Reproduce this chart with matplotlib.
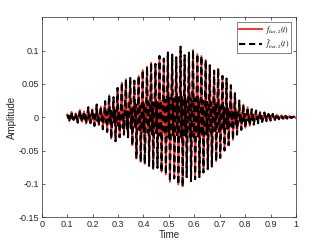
import matplotlib
matplotlib.use("Agg")
import matplotlib.pyplot as plt
import numpy as np

plt.rcParams['font.family'] = ['Liberation Sans', 'DejaVu Sans']
plt.rcParams['mathtext.fontset'] = 'stix'

# Upper peaks (time, amplitude)
t_up = [0.100, 0.117, 0.133, 0.150, 0.166, 0.183, 0.199, 0.216, 0.232, 0.249,
        0.265, 0.282, 0.298, 0.315, 0.331, 0.348, 0.364, 0.381, 0.397, 0.414,
        0.430, 0.447, 0.463, 0.480, 0.496, 0.513, 0.529, 0.546, 0.562, 0.579,
        0.595, 0.612, 0.628, 0.645, 0.661, 0.678, 0.694, 0.711, 0.727, 0.744,
        0.760, 0.777, 0.793, 0.810, 0.826, 0.843, 0.859, 0.876, 0.892, 0.909,
        0.925, 0.942, 0.958, 0.975, 0.991]
a_up = [0.004, 0.008, 0.006, 0.011, 0.009, 0.015, 0.012, 0.019, 0.016, 0.024,
        0.033, 0.030, 0.044, 0.052, 0.057, 0.059, 0.055, 0.062, 0.071, 0.076,
        0.082, 0.080, 0.092, 0.088, 0.098, 0.094, 0.090, 0.106, 0.093, 0.097,
        0.101, 0.095, 0.092, 0.086, 0.078, 0.070, 0.073, 0.062, 0.058, 0.048,
        0.036, 0.025, 0.019, 0.015, 0.012, 0.010, 0.008, 0.007, 0.005, 0.005,
        0.004, 0.003, 0.002, 0.002, 0.001]
# Inner wiggle on the way down (dip, then small rebound)
a_dip = [-0.001, -0.003, -0.002, -0.004, -0.003, -0.005, -0.004, -0.006, -0.005, -0.008,
         -0.010, -0.009, -0.013, -0.016, -0.018, -0.017, -0.016, -0.019, -0.022, -0.023,
         -0.025, -0.024, -0.028, -0.026, -0.030, -0.028, -0.027, -0.032, -0.028, -0.029,
         -0.030, -0.029, -0.028, -0.026, -0.023, -0.021, -0.022, -0.019, -0.017, -0.014,
         -0.011, -0.008, -0.006, -0.005, -0.004, -0.003, -0.002, -0.002, -0.002, -0.001,
         -0.001, -0.001, -0.001, -0.0005, 0.0]
a_reb = [0.002, 0.001, 0.002, 0.002, 0.003, 0.003, 0.004, 0.004, 0.005, 0.007,
         0.010, 0.011, 0.009, 0.008, 0.009, 0.013, 0.019, 0.020, 0.021, 0.022,
         0.023, 0.023, 0.025, 0.026, 0.029, 0.028, 0.030, 0.031, 0.027, 0.029,
         0.028, 0.027, 0.025, 0.023, 0.022, 0.020, 0.018, 0.015, 0.013, 0.010,
         0.008, 0.006, 0.005, 0.004, 0.003, 0.003, 0.002, 0.002, 0.002, 0.001,
         0.001, 0.001, 0.001, 0.0, 0.0]
# Lower troughs (time, amplitude)
t_lo = [0.108, 0.125, 0.141, 0.158, 0.174, 0.191, 0.207, 0.224, 0.240, 0.257,
        0.273, 0.290, 0.306, 0.323, 0.339, 0.356, 0.372, 0.389, 0.405, 0.422,
        0.438, 0.455, 0.471, 0.488, 0.504, 0.521, 0.537, 0.554, 0.570, 0.587,
        0.603, 0.620, 0.636, 0.653, 0.669, 0.686, 0.702, 0.719, 0.735, 0.752,
        0.768, 0.785, 0.801, 0.818, 0.834, 0.851, 0.867, 0.884, 0.900, 0.917,
        0.933, 0.950, 0.966, 0.983, 0.999]
a_lo = [-0.005, -0.004, -0.008, -0.007, -0.010, -0.009, -0.013, -0.012, -0.018, -0.022,
        -0.032, -0.036, -0.030, -0.026, -0.030, -0.042, -0.062, -0.067, -0.070, -0.073,
        -0.078, -0.076, -0.082, -0.086, -0.097, -0.092, -0.101, -0.104, -0.090, -0.096,
        -0.093, -0.090, -0.083, -0.078, -0.074, -0.066, -0.061, -0.050, -0.042, -0.034,
        -0.026, -0.019, -0.016, -0.013, -0.011, -0.009, -0.007, -0.006, -0.005, -0.004,
        -0.003, -0.003, -0.002, -0.001, -0.001]

x_ticks = [0, 0.1, 0.2, 0.3, 0.4, 0.5, 0.6, 0.7, 0.8, 0.9, 1]
x_ticklabels = ['0', '0.1', '0.2', '0.3', '0.4', '0.5', '0.6', '0.7', '0.8', '0.9', '1']
y_ticks = [-0.15, -0.1, -0.05, 0, 0.05, 0.1]
y_ticklabels = ['-0.15', '-0.1', '-0.05', '0', '0.05', '0.1']

# assemble the waveform: peak -> dip -> rebound -> trough
t_sig = []
a_sig = []
for tu, au, ad, ar, tl, al in zip(t_up, a_up, a_dip, a_reb, t_lo, a_lo):
    t_sig += [tu, tu + 0.0035, tu + 0.0055, tl]
    a_sig += [au, ad, ar, al]

fig = plt.figure(figsize=(3.27, 2.45), dpi=100)
ax = fig.add_axes([0.128, 0.114, 0.777, 0.815])
ax.plot(t_sig, a_sig, color='#ff2020', lw=1.3, label=r'$f_{bat,2}(t)$')
ax.plot(t_sig, a_sig, color='black', lw=1.5, ls=(0, (3.0, 1.8)), label=r'$\tilde{f}_{bat,2}(t)$')

ax.set_xlim(0, 1)
ax.set_ylim(-0.15, 0.15)
ax.set_xticks(x_ticks)
ax.set_xticklabels(x_ticklabels)
ax.set_yticks(y_ticks)
ax.set_yticklabels(y_ticklabels)
gray = '#262626'
ax.tick_params(direction='in', length=2.5, width=0.5, labelsize=6.5, colors=gray,
               top=True, right=True, pad=2)
for s in ax.spines.values():
    s.set_linewidth(0.5)
    s.set_color(gray)
ax.set_xlabel('Time', fontsize=7, color=gray, labelpad=1)
ax.set_ylabel('Amplitude', fontsize=7, color=gray, labelpad=1)

leg = ax.legend(loc='upper right', fontsize=5.5, frameon=True, fancybox=False,
                borderpad=0.3, handlelength=3.0, handletextpad=0.4, labelspacing=0.2,
                borderaxespad=0.6)
leg.get_frame().set_edgecolor(gray)
leg.get_frame().set_linewidth(0.5)

fig.savefig('out.png', dpi=100)
